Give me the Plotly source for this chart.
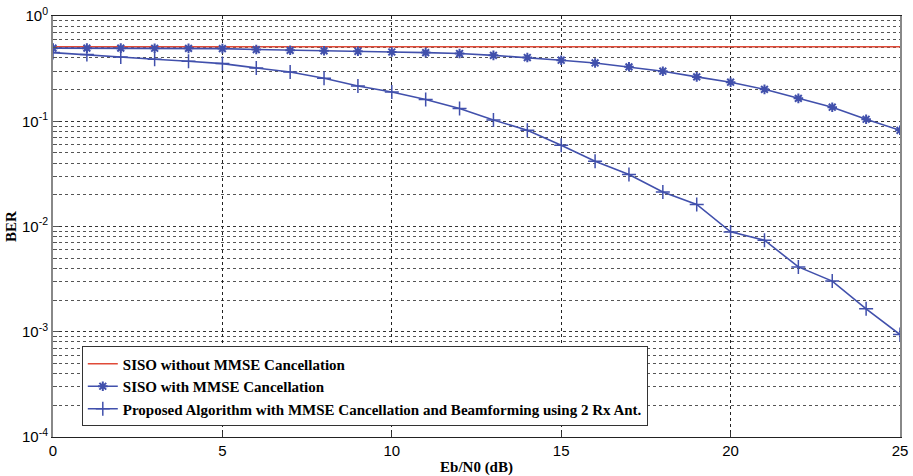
import plotly.graph_objects as go

snr_db = list(range(0, 26))
ber_siso_no_mmse = [0.51] * 26
ber_siso_mmse = [0.495, 0.495, 0.495, 0.494, 0.493, 0.49, 0.48, 0.472, 0.467, 0.462,
                 0.455, 0.449, 0.44, 0.423, 0.403, 0.38, 0.358, 0.329, 0.299, 0.264,
                 0.235, 0.201, 0.165, 0.136, 0.1045, 0.082]
ber_proposed = [0.449, 0.43, 0.408, 0.388, 0.371, 0.353, 0.321, 0.294, 0.256, 0.216,
                0.19, 0.161, 0.132, 0.103, 0.082, 0.0592, 0.0417, 0.0312, 0.0213, 0.0162,
                0.00889, 0.00741, 0.00413, 0.00303, 0.00165, 0.00094]

x_ticks = [0, 5, 10, 15, 20, 25]
y_tickvals = [1e-4, 1e-3, 1e-2, 1e-1, 1e0]
y_ticktext = ["10<sup>-4</sup>", "10<sup>-3</sup>", "10<sup>-2</sup>", "10<sup>-1</sup>", "10<sup>0</sup>"]

names = ["SISO without MMSE Cancellation",
         "SISO with MMSE Cancellation",
         "Proposed Algorithm with MMSE Cancellation and Beamforming using 2 Rx Ant."]

blue = "#4150ac"
red = "#e04a38"

fig = go.Figure()
fig.add_trace(go.Scatter(x=snr_db, y=ber_siso_no_mmse, mode="lines", name=names[0],
                         line=dict(color=red, width=1.6)))
fig.add_trace(go.Scatter(x=snr_db, y=ber_siso_mmse, mode="lines+markers", name=names[1],
                         line=dict(color=blue, width=1.6),
                         marker=dict(symbol="asterisk-open", size=8,
                                     line=dict(color=blue, width=2))))
fig.add_trace(go.Scatter(x=snr_db, y=ber_proposed, mode="lines+markers", name=names[2],
                         line=dict(color=blue, width=1.6),
                         marker=dict(symbol="cross-thin-open", size=10,
                                     line=dict(color=blue, width=1.5))))

fig.update_layout(
    width=913, height=476,
    margin=dict(l=53, r=13, t=16, b=39),
    paper_bgcolor="white", plot_bgcolor="white",
    showlegend=True,
    legend=dict(x=0.034, y=0.215, xanchor="left", yanchor="top",
                bgcolor="white", bordercolor="#333", borderwidth=1,
                font=dict(family="Liberation Serif", size=15, color="black", weight="bold"),
                tracegroupgap=0, itemwidth=30),
    font=dict(family="Liberation Sans", size=14, color="black"),
)

fig.update_xaxes(
    range=[0, 25], tickvals=x_ticks, ticks="inside", ticklen=5, tickcolor="#333",
    showline=True, linecolor="#222", linewidth=1, mirror=True,
    showgrid=True, gridcolor="#222", griddash="dot", gridwidth=1,
    zeroline=False, automargin=False,
    tickfont=dict(family="Liberation Sans", size=15),
    title=dict(text="<b>Eb/N0 (dB)</b>", font=dict(family="Liberation Serif", size=15), standoff=4),
)
fig.update_yaxes(
    type="log", range=[-4, 0], tickvals=y_tickvals, ticktext=y_ticktext,
    ticks="inside", ticklen=6, tickcolor="#555",
    showline=True, linecolor="#888", linewidth=2, mirror=True,
    showgrid=True, gridcolor="#333", griddash="dot", gridwidth=1,
    minor=dict(dtick="D1", showgrid=True, gridcolor="#555", griddash="dot", gridwidth=1,
               ticks="inside", ticklen=4, tickcolor="#555"),
    zeroline=False, automargin=False,
    tickfont=dict(family="Liberation Sans", size=15),
    title=dict(text="<b>BER</b>", font=dict(family="Liberation Serif", size=15), standoff=2),
)

fig.write_html("out.html",
               config={"displayModeBar": False},
               post_script="document.body.style.margin='0';document.body.style.overflow='hidden';")
